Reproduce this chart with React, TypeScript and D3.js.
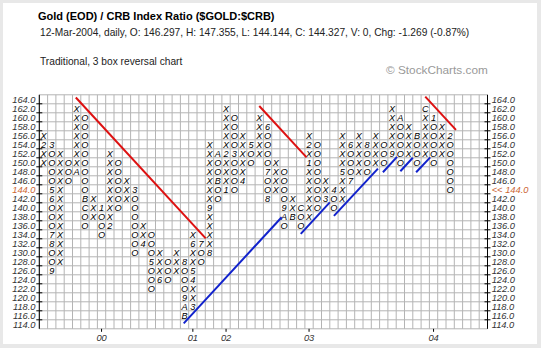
import React from "react";
import * as d3 from "d3";

// ---- data ----
const colLow = [150,126,128,146,148,136,138,134,136,140,142,130,132,122,124,124,126,116,118,128,130,142,144,144,146,150,152,142,144,136,138,136,138,140,142,140,142,146,148,148,150,150,152,150,152,150,152,150,152,144];
const colHigh = [156,154,152,150,162,160,142,140,152,150,146,144,136,134,130,128,130,128,134,132,154,152,162,160,156,154,160,158,150,148,142,140,156,154,146,144,156,154,156,154,156,154,162,160,158,156,162,160,158,156];
// even columns are X, odd are O
const monthCols = [0,1,1,1,1,1,1,4,5,5,7,8,11,12,13,14,17,17,17,17,18,18,18,18,19,20,20,21,21,22,22,23,24,25,27,27,27,29,29,30,31,32,32,34,35,36,37,37,39,42,43,45,46,47,49];
const monthPrices = [154,154,144,142,134,132,126,148,142,140,140,136,144,132,128,124,128,120,118,116,118,124,126,132,132,130,140,152,146,144,152,152,146,154,158,148,142,140,138,138,140,150,154,142,144,148,154,146,154,152,160,156,162,160,156];
const monthLabels = ["2","3","5","6","7","8","9","A","B","C","1","2","3","4","5","6","8","9","A","B","3","4","5","6","7","8","9","A","B","1","2","3","4","5","6","7","8","9","A","B","C","1","2","3","4","5","6","7","8","9","A","B","C","1","2"];
const yearCols = [7,18,22,32,47];
const yearLabels = ["00","01","02","03","04"];
const priceTicks = d3.range(114, 165, 2);
const lastPrice = 144;
const redLines = [[4.4,164.4,20.05,133.1],[26.5,162.5,32.2,151.1],[46.5,164.6,50.2,157.2]];
const blueLines = [[17.4,114.2,29.2,137.8],[31.5,134.1,35.0,141.1],[35.5,138.1,40.8,148.6],[41.4,147.8,43.1,151.2],[43.5,148.0,45.0,151.0],[45.4,147.8,47.1,151.1]];
const nCols = 54;

const title = "Gold (EOD) / CRB Index Ratio ($GOLD:$CRB)";
const subtitle = "12-Mar-2004, daily, O: 146.297, H: 147.355, L: 144.144, C: 144.327, V: 0, Chg: -1.269 (-0.87%)";
const chartType = "Traditional, 3 box reversal chart";
const credit = "\u00A9 StockCharts.com";

const W = 541, H = 348;
const FONT = "'Liberation Sans', Arial, sans-serif";

export default function App() {
  const x = d3.scaleLinear().domain([0, nCols]).range([39.3, 487.5]);
  const y = d3.scaleLinear().domain([113, 165]).range([328.8, 94.8]);
  const gridY = d3.range(113, 166, 2);
  const gridX = d3.range(0, nCols + 1);

  const marks: { c: number; p: number; t: string }[] = [];
  colLow.forEach((lo, c) => {
    const sym = c % 2 === 0 ? "X" : "O";
    for (let p = lo; p <= colHigh[c]; p += 2) {
      let t = sym;
      monthCols.forEach((mc, i) => {
        if (mc === c && monthPrices[i] === p) t = monthLabels[i];
      });
      marks.push({ c, p, t });
    }
  });

  const line = d3.line<number[]>().x((d) => x(d[0])).y((d) => y(d[1]));

  return (
    <svg width={W} height={H} style={{ position: "absolute", left: 0, top: 0 }} fontFamily={FONT}>
      <rect x={0} y={0} width={W} height={H} fill="#e8e8e8" />
      <rect x={3} y={3} width={W - 7} height={H - 7} fill="#ffffff" />
      <text x={38} y={19.5} fontSize={11} fontWeight="bold" fill="#000">{title}</text>
      <text x={40} y={35.5} fontSize={10.2} fill="#222">{subtitle}</text>
      <text x={40} y={65} fontSize={10.2} fill="#222">{chartType}</text>
      <text x={386} y={74} fontSize={11.8} fill="#999">{credit}</text>

      {/* grid */}
      <g stroke="#b4b4b4" strokeWidth={1}>
        {gridY.map((v) => (
          <line key={"h" + v} x1={x(0)} x2={x(nCols)} y1={y(v)} y2={y(v)} />
        ))}
        {gridX.map((c) => (
          <line key={"v" + c} x1={x(c)} x2={x(c)} y1={y(113)} y2={y(165)} />
        ))}
      </g>
      {/* axes */}
      <g stroke="#000" strokeWidth={1}>
        <line x1={x(0)} x2={x(0)} y1={y(113)} y2={y(165)} />
        <line x1={x(nCols)} x2={x(nCols)} y1={y(113)} y2={y(165)} />
        {gridY.slice(1, -1).map((v) => (
          <g key={"t" + v}>
            <line x1={x(0) - 3} x2={x(0) + 3} y1={y(v)} y2={y(v)} />
            <line x1={x(nCols) - 3} x2={x(nCols) + 3} y1={y(v)} y2={y(v)} />
          </g>
        ))}
        {yearCols.map((c) => (
          <line key={"yt" + c} x1={x(c + 0.5)} x2={x(c + 0.5)} y1={y(113)} y2={y(113) + 3} />
        ))}
      </g>
      {/* price labels */}
      <g fontSize={9.3} fontStyle="italic">
        {priceTicks.map((v) => (
          <text key={"l" + v} x={35.5} y={y(v) + 3.3} textAnchor="end" fill={v === lastPrice ? "#cc6633" : "#333"}>
            {v.toFixed(1)}
          </text>
        ))}
        {priceTicks.map((v) => (
          <text key={"r" + v} x={491.7} y={y(v) + 3.3} fill={v === lastPrice ? "#cc6633" : "#333"}>
            {v === lastPrice ? "<< " + v.toFixed(1) : v.toFixed(1)}
          </text>
        ))}
      </g>
      {/* year labels */}
      <g fontSize={9.3} fontStyle="italic" fill="#333">
        {yearCols.map((c, i) => (
          <text key={"y" + c} x={x(c + 0.5)} y={341} textAnchor="middle">{yearLabels[i]}</text>
        ))}
      </g>
      {/* X / O marks */}
      <g fontSize={9.2} fontStyle="italic" fill="#000" textAnchor="middle">
        {marks.map((m, i) => (
          <text key={i} x={x(m.c + 0.5)} y={y(m.p) + 3.3}>{m.t}</text>
        ))}
      </g>
      {/* trend lines */}
      <g fill="none" strokeWidth={2}>
        {redLines.map((l, i) => (
          <path key={"rl" + i} d={line([[l[0], l[1]], [l[2], l[3]]]) || ""} stroke="#dd1111" />
        ))}
        {blueLines.map((l, i) => (
          <path key={"bl" + i} d={line([[l[0], l[1]], [l[2], l[3]]]) || ""} stroke="#1122cc" />
        ))}
      </g>
    </svg>
  );
}
